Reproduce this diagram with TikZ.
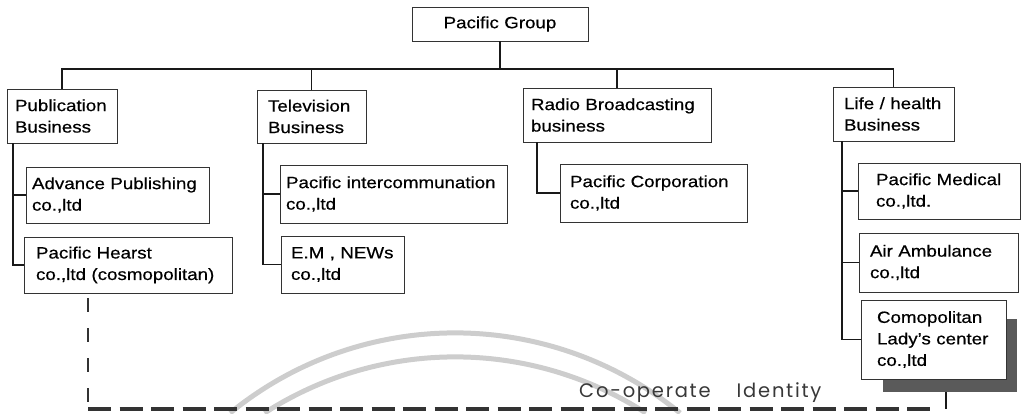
\documentclass[tikz,border=0pt]{standalone}
\usepackage{fontspec}
\setmainfont{Liberation Sans}[FakeStretch=1.15, FakeBold=0.5]
\newfontfamily\cifont{Poppins}[LetterSpace=9]
\usepackage{xcolor}
\definecolor{shadowgrey}{HTML}{5A5A5A}
\definecolor{markgrey}{HTML}{CDCDCD}

\begin{document}
\begin{tikzpicture}[
  x=1pt, y=-1pt,
  font=\fontsize{16.3}{21.5}\selectfont,
  box/.style={draw=black!80, line width=0.9pt, fill=white, anchor=north west,
    align=left, outer sep=0pt, inner ysep=0pt},
  shadowbox/.style={fill=shadowgrey, anchor=north west, inner sep=0pt, outer sep=0pt},
  link/.style={line width=1.7pt, black!90},
  cidash/.style={line width=3.4pt, black!80, dash pattern=on 23pt off 8.5pt},
  cidashv/.style={line width=2.6pt, black!80, dash pattern=on 14pt off 16pt}
]
\useasboundingbox (0,0) rectangle (1022,413);

% faint watermark arcs of the scan
\begin{scope}[y=1pt, markgrey, line width=5pt]
  \draw (230.1,-413) arc[start angle=129.2, end angle=50.8, radius=356];
  \draw (264.5,-413) arc[start angle=122.8, end angle=57.2, radius=352];
\end{scope}

% top
\node[box, align=center, text width=176pt, inner xsep=0pt, minimum height=34pt] (pg) at (412,7) {Pacific Group};

% business lines
\node[box, inner xsep=8pt, text width=94pt, minimum height=54pt] (pub) at (7,89) {Publication\\Business};
\node[box, inner xsep=11pt, text width=87pt, minimum height=53pt] (tv) at (257,90) {Television\\Business};
\node[box, inner xsep=8pt, text width=172pt, minimum height=54pt] (radio) at (523,88) {Radio Broadcasting\\business};
\node[box, inner xsep=11pt, text width=99pt, minimum height=54pt] (life) at (833,87) {Life / health\\Business};

% companies
\node[box, inner xsep=6pt, text width=171pt, minimum height=56pt] (adv) at (26,167) {Advance Publishing\\co.,ltd};
\node[box, inner xsep=12pt, text width=184pt, minimum height=56pt] (hearst) at (24,237) {Pacific Hearst\\co.,ltd (cosmopolitan)};
\node[box, inner xsep=6pt, text width=215pt, minimum height=58pt] (inter) at (280,165) {Pacific intercommunation\\co.,ltd};
\node[box, inner xsep=10pt, text width=103pt, minimum height=57pt] (emnews) at (281,236) {E.M , NEWs\\co.,ltd};
\node[box, inner xsep=10pt, text width=167pt, minimum height=58pt] (corp) at (560,164) {Pacific Corporation\\co.,ltd};
\node[box, inner xsep=18pt, text width=126pt, minimum height=56pt] (medical) at (858,163) {Pacific Medical\\co.,ltd.};
\node[box, inner xsep=11pt, text width=137pt, minimum height=59pt] (air) at (859,233) {Air Ambulance\\co.,ltd};
\node[shadowbox, minimum width=134pt, minimum height=73pt] (ladyshadow) at (883,319) {};
\node[box, inner xsep=16pt, text width=113pt, minimum height=79pt] (lady) at (861,300) {Comopolitan\\Lady's center\\co.,ltd};

% tree lines
\coordinate (bus) at (500,69);
\draw[link] (pg.south) -- (bus);
\foreach \b in {pub,tv,radio,life}
  \draw[link] (bus) -| (\b.north);
\foreach \c in {adv,hearst}
  \draw[link] ([xshift=6pt]pub.south west) |- (\c.west);
\foreach \c in {inter,emnews}
  \draw[link] ([xshift=6pt]tv.south west) |- (\c.west);
\draw[link] ([xshift=14pt]radio.south west) |- (corp.west);
\foreach \c in {medical,air,lady}
  \draw[link] ([xshift=9pt]life.south west) |- (\c.west);

% co-operate identity
\coordinate (cicorner) at (88,409);
\coordinate (ciend) at (932,409);
\draw[cidashv] ([yshift=-5pt]hearst.south -| cicorner) -- (cicorner);
\draw[cidash] (cicorner) -- (ciend);
\draw[link] ([xshift=-4pt]ladyshadow.south) -- ([xshift=-4pt]ladyshadow.south |- cicorner);
\node[font=\cifont\fontsize{19.5}{22}\selectfont, text=black!78, anchor=base west, inner sep=0pt] (cilabel) at (579,397) {Co-operate\hspace{26pt}Identity};
\end{tikzpicture}
\end{document}
